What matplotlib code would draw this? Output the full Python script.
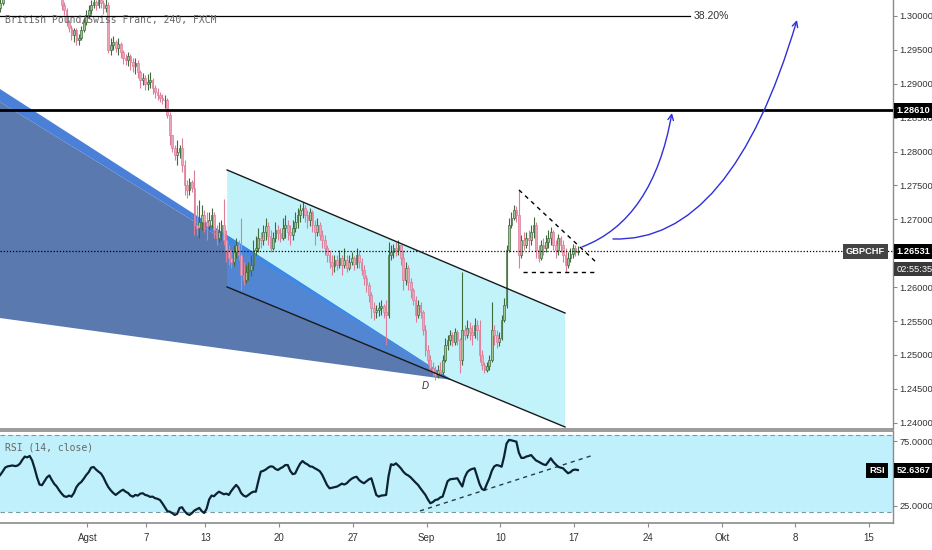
import numpy as np
import matplotlib.pyplot as plt
from matplotlib.path import Path
from matplotlib.patches import FancyArrowPatch, Polygon
from matplotlib.transforms import blended_transform_factory

plt.rcParams['font.family'] = ['Liberation Sans Narrow', 'Liberation Sans', 'DejaVu Sans']

# =========================================================
# DATA  (GBPCHF, 4h bars, index 0 = first bar of 1 Aug)
# =========================================================
first_bar = -36
first_open = 1.3012

closes = [
    1.3019, 1.3030, 1.3038, 1.3046, 1.3053, 1.3060, 1.3056, 1.3068, 1.3075, 1.3071,
    1.3080, 1.3072, 1.3065, 1.3068, 1.3059, 1.3063, 1.3053, 1.3056, 1.3050, 1.3060,
    1.3053, 1.3044, 1.3047, 1.3038, 1.3032, 1.3016, 1.3009, 1.2991, 1.2982, 1.2972,
    1.2979, 1.2965, 1.2968, 1.2979, 1.2991, 1.3001, 1.3009, 1.3016, 1.3021, 1.3016,
    1.3024, 1.3019, 1.3012, 1.3016, 1.2950, 1.2957, 1.2962, 1.2953, 1.2959, 1.2947,
    1.2938, 1.2935, 1.2941, 1.2932, 1.2926, 1.2931, 1.2917, 1.2906, 1.2909, 1.2900,
    1.2903, 1.2906, 1.2894, 1.2888, 1.2884, 1.2879, 1.2876, 1.2876, 1.2854, 1.2825,
    1.2805, 1.2795, 1.2799, 1.2805, 1.2780, 1.2751, 1.2743, 1.2755, 1.2746, 1.2692,
    1.2687, 1.2696, 1.2707, 1.2696, 1.2690, 1.2699, 1.2707, 1.2684, 1.2673, 1.2681,
    1.2692, 1.2670, 1.2655, 1.2643, 1.2637, 1.2652, 1.2662, 1.2648, 1.2618, 1.2611,
    1.2622, 1.2625, 1.2633, 1.2655, 1.2658, 1.2673, 1.2670, 1.2681, 1.2690, 1.2675,
    1.2658, 1.2673, 1.2684, 1.2680, 1.2673, 1.2687, 1.2692, 1.2681, 1.2677, 1.2687,
    1.2696, 1.2707, 1.2714, 1.2717, 1.2707, 1.2699, 1.2711, 1.2692, 1.2681, 1.2692,
    1.2677, 1.2670, 1.2658, 1.2648, 1.2637, 1.2631, 1.2640, 1.2633, 1.2643, 1.2633,
    1.2640, 1.2628, 1.2637, 1.2643, 1.2634, 1.2648, 1.2637, 1.2625, 1.2613, 1.2603,
    1.2589, 1.2569, 1.2564, 1.2566, 1.2569, 1.2572, 1.2564, 1.2559, 1.2648, 1.2652,
    1.2658, 1.2655, 1.2662, 1.2643, 1.2611, 1.2628, 1.2608, 1.2596, 1.2581, 1.2559,
    1.2574, 1.2564, 1.2537, 1.2507, 1.2493, 1.2481, 1.2475, 1.2471, 1.2478, 1.2475,
    1.2493, 1.2515, 1.2522, 1.2529, 1.2519, 1.2534, 1.2522, 1.2493, 1.2537, 1.2529,
    1.2540, 1.2534, 1.2529, 1.2544, 1.2537, 1.2500, 1.2485, 1.2478, 1.2484, 1.2493,
    1.2537, 1.2529, 1.2519, 1.2525, 1.2552, 1.2574, 1.2655, 1.2692, 1.2702, 1.2714,
    1.2707, 1.2648, 1.2670, 1.2662, 1.2673, 1.2670, 1.2681, 1.2692, 1.2655, 1.2643,
    1.2662, 1.2658, 1.2667, 1.2673, 1.2681, 1.2662, 1.2655, 1.2673, 1.2662, 1.2648,
    1.2633, 1.2643, 1.2649, 1.2658, 1.2652, 1.26531,
]
highs = [
    1.3027, 1.3035, 1.3044, 1.3053, 1.3060, 1.3068, 1.3065, 1.3074, 1.3083, 1.3080,
    1.3086, 1.3083, 1.3075, 1.3074, 1.3071, 1.3068, 1.3065, 1.3062, 1.3059, 1.3065,
    1.3063, 1.3056, 1.3053, 1.3050, 1.3041, 1.3035, 1.3021, 1.3012, 1.2994, 1.2987,
    1.2982, 1.2982, 1.2974, 1.2985, 1.2997, 1.3009, 1.3016, 1.3024, 1.3028, 1.3024,
    1.3031, 1.3030, 1.3024, 1.3027, 1.3021, 1.2968, 1.2970, 1.2965, 1.2968, 1.2962,
    1.2950, 1.2944, 1.2947, 1.2944, 1.2938, 1.2938, 1.2935, 1.2920, 1.2916, 1.2913,
    1.2915, 1.2917, 1.2909, 1.2898, 1.2894, 1.2888, 1.2885, 1.2884, 1.2879, 1.2858,
    1.2825, 1.2810, 1.2817, 1.2810, 1.2820, 1.2788, 1.2758, 1.2761, 1.2758, 1.2773,
    1.2721, 1.2729, 1.2721, 1.2714, 1.2711, 1.2711, 1.2717, 1.2711, 1.2692, 1.2696,
    1.2699, 1.2730, 1.2684, 1.2662, 1.2655, 1.2662, 1.2673, 1.2670, 1.2702, 1.2637,
    1.2633, 1.2637, 1.2648, 1.2670, 1.2675, 1.2687, 1.2681, 1.2692, 1.2702, 1.2696,
    1.2684, 1.2681, 1.2696, 1.2692, 1.2687, 1.2702, 1.2707, 1.2699, 1.2692, 1.2699,
    1.2711, 1.2717, 1.2723, 1.2726, 1.2721, 1.2714, 1.2717, 1.2714, 1.2699, 1.2702,
    1.2696, 1.2684, 1.2677, 1.2662, 1.2655, 1.2648, 1.2648, 1.2648, 1.2655, 1.2648,
    1.2658, 1.2648, 1.2648, 1.2652, 1.2646, 1.2658, 1.2655, 1.2643, 1.2633, 1.2618,
    1.2608, 1.2593, 1.2578, 1.2574, 1.2578, 1.2581, 1.2575, 1.2581, 1.2667, 1.2662,
    1.2664, 1.2667, 1.2670, 1.2662, 1.2655, 1.2637, 1.2633, 1.2613, 1.2599, 1.2587,
    1.2581, 1.2578, 1.2566, 1.2544, 1.2515, 1.2500, 1.2490, 1.2484, 1.2485, 1.2490,
    1.2500, 1.2525, 1.2529, 1.2537, 1.2534, 1.2540, 1.2537, 1.2525, 1.2622, 1.2544,
    1.2552, 1.2549, 1.2544, 1.2555, 1.2552, 1.2552, 1.2507, 1.2490, 1.2490, 1.2500,
    1.2578, 1.2544, 1.2537, 1.2534, 1.2559, 1.2584, 1.2662, 1.2702, 1.2711, 1.2721,
    1.2720, 1.2743, 1.2677, 1.2681, 1.2681, 1.2684, 1.2692, 1.2704, 1.2696, 1.2662,
    1.2670, 1.2673, 1.2677, 1.2684, 1.2689, 1.2684, 1.2670, 1.2679, 1.2675, 1.2670,
    1.2658, 1.2652, 1.2658, 1.2664, 1.2662, 1.2661,
]
lows = [
    1.3006, 1.3016, 1.3031, 1.3037, 1.3043, 1.3050, 1.3047, 1.3053, 1.3065, 1.3063,
    1.3068, 1.3065, 1.3059, 1.3056, 1.3053, 1.3053, 1.3046, 1.3044, 1.3041, 1.3046,
    1.3044, 1.3035, 1.3035, 1.3031, 1.3027, 1.3009, 1.3001, 1.2985, 1.2976, 1.2965,
    1.2962, 1.2957, 1.2957, 1.2965, 1.2976, 1.2987, 1.2997, 1.3003, 1.3012, 1.3009,
    1.3012, 1.3012, 1.3003, 1.3006, 1.2945, 1.2942, 1.2950, 1.2947, 1.2942, 1.2938,
    1.2929, 1.2928, 1.2926, 1.2920, 1.2917, 1.2915, 1.2909, 1.2894, 1.2898, 1.2891,
    1.2891, 1.2894, 1.2885, 1.2879, 1.2876, 1.2873, 1.2870, 1.2864, 1.2850, 1.2810,
    1.2799, 1.2788, 1.2780, 1.2791, 1.2770, 1.2736, 1.2731, 1.2736, 1.2740, 1.2677,
    1.2677, 1.2673, 1.2684, 1.2681, 1.2670, 1.2684, 1.2687, 1.2673, 1.2662, 1.2667,
    1.2670, 1.2662, 1.2637, 1.2633, 1.2628, 1.2631, 1.2643, 1.2640, 1.2596, 1.2603,
    1.2606, 1.2611, 1.2616, 1.2625, 1.2648, 1.2652, 1.2658, 1.2662, 1.2670, 1.2662,
    1.2652, 1.2655, 1.2667, 1.2670, 1.2667, 1.2670, 1.2673, 1.2670, 1.2662, 1.2670,
    1.2681, 1.2687, 1.2696, 1.2702, 1.2696, 1.2687, 1.2690, 1.2681, 1.2662, 1.2675,
    1.2670, 1.2658, 1.2648, 1.2637, 1.2628, 1.2618, 1.2622, 1.2625, 1.2628, 1.2618,
    1.2628, 1.2622, 1.2625, 1.2633, 1.2625, 1.2628, 1.2628, 1.2618, 1.2603, 1.2593,
    1.2578, 1.2555, 1.2552, 1.2555, 1.2558, 1.2559, 1.2555, 1.2515, 1.2555, 1.2640,
    1.2643, 1.2646, 1.2648, 1.2633, 1.2596, 1.2603, 1.2596, 1.2584, 1.2574, 1.2549,
    1.2555, 1.2555, 1.2529, 1.2499, 1.2485, 1.2475, 1.2469, 1.2463, 1.2466, 1.2471,
    1.2471, 1.2490, 1.2507, 1.2515, 1.2513, 1.2515, 1.2515, 1.2474, 1.2485, 1.2522,
    1.2525, 1.2522, 1.2515, 1.2525, 1.2522, 1.2490, 1.2478, 1.2474, 1.2475, 1.2478,
    1.2490, 1.2515, 1.2510, 1.2513, 1.2522, 1.2549, 1.2569, 1.2652, 1.2687, 1.2699,
    1.2696, 1.2628, 1.2643, 1.2655, 1.2658, 1.2655, 1.2662, 1.2673, 1.2643, 1.2637,
    1.2640, 1.2648, 1.2652, 1.2658, 1.2662, 1.2655, 1.2643, 1.2648, 1.2652, 1.2637,
    1.2622, 1.2628, 1.2637, 1.2643, 1.2646, 1.2648,
]
rsi = [
    48.8, 51.5, 54.5, 55.5, 55.8, 56.2, 55.7, 56.0, 57.5, 60.5,
    63.0, 62.4, 63.5, 60.0, 54.0, 47.0, 41.5, 41.0, 44.0, 47.0,
    48.5, 45.0, 42.0, 40.0, 37.0, 34.5, 32.5, 32.0, 33.0, 32.2,
    35.0, 39.5, 42.0, 43.5, 46.0, 48.8, 51.0, 54.5, 55.0, 53.0,
    51.4, 50.0, 47.0, 43.0, 39.5, 37.0, 35.0, 33.5, 35.0, 36.5,
    37.5, 36.0, 35.0, 33.0, 32.2, 33.5, 33.0, 34.5, 34.8, 33.5,
    33.0, 32.0, 32.2, 31.0, 30.5, 29.6, 27.0, 24.0, 21.0, 20.6,
    19.5, 18.1, 19.0, 23.5, 24.0, 21.0, 19.0, 18.1, 19.5, 21.5,
    22.5, 23.5, 21.0, 19.6, 23.0, 30.0, 33.0, 32.5, 34.5, 36.0,
    35.0, 34.0, 34.5, 33.5, 36.5, 39.0, 41.2, 39.0, 35.0, 33.0,
    32.2, 33.5, 35.0, 36.0, 36.0, 44.0, 51.4, 52.0, 53.0, 54.5,
    55.5, 55.2, 53.5, 52.7, 54.0, 55.0, 56.5, 56.5, 52.0, 49.5,
    50.0, 54.0, 57.5, 59.6, 58.0, 57.0, 55.5, 55.2, 54.0, 53.0,
    51.8, 49.0, 45.0, 41.0, 38.6, 39.0, 39.5, 39.9, 41.0, 42.2,
    41.5, 42.5, 44.5, 46.0, 47.0, 47.5, 45.0, 43.5, 42.5, 44.0,
    45.5, 46.3, 40.0, 33.5, 32.2, 33.0, 33.2, 33.5, 48.0, 57.1,
    56.5, 57.8, 56.0, 54.0, 51.4, 49.5, 48.5, 47.0, 45.0, 43.0,
    41.2, 38.5, 36.0, 33.5, 30.0, 27.1, 28.0, 29.6, 30.0, 31.5,
    32.2, 38.0, 44.0, 45.5, 45.8, 46.0, 46.3, 43.0, 40.0, 47.0,
    51.0, 52.7, 53.5, 54.0, 48.0, 42.0, 38.0, 37.3, 42.0, 46.3,
    52.0, 55.5, 56.5, 56.0, 55.2, 63.0, 73.0, 75.8, 75.5, 75.0,
    74.5, 66.0, 62.0, 62.0, 63.0, 63.5, 64.2, 62.0, 60.0, 59.1,
    58.0, 57.0, 56.5, 59.0, 61.7, 59.0, 57.0, 55.2, 54.5, 54.0,
    52.0, 50.2, 51.0, 52.7, 53.0, 52.6367,
]

# time axis in trading days (day 0 = 1 Aug), 6 bars per day
tick_days = [0, 4, 8, 13, 18, 23, 28, 33, 38, 43, 48, 53]
tick_labels = ['Agst', '7', '13', '20', '27', 'Sep', '10', '17', '24', 'Okt', '8', '15']
price_ticks = [1.24, 1.245, 1.25, 1.255, 1.26, 1.265, 1.27, 1.275, 1.28, 1.285, 1.29, 1.295, 1.30]

last_price = 1.26531
resistance = 1.28610
fib_382 = 1.29993

# drawings (anchor points: day, price)
fan_a = [(-5.93, 1.28923), (24.72, 1.24631)]
fan_b = [(-5.93, 1.28731), (24.72, 1.24631)]
fan_c = [(-5.93, 1.25545), (24.72, 1.24631)]
chan_top = [(9.47, 1.27729), (32.38, 1.25619)]
chan_bot = [(9.47, 1.26003), (32.38, 1.23938)]
tri_top = [(29.26, 1.27434), (34.55, 1.26357)]
tri_bot = [(29.53, 1.26224), (34.62, 1.26224)]
arrow1 = [(33.53, 1.26593), (38.35, 1.26991), (39.63, 1.28569)]
arrow2 = [(35.63, 1.26711), (43.63, 1.26652), (48.11, 1.29941)]
rsi_trend = [(22.55, 21.2), (34.18, 63.7)]

# =========================================================
# FIGURE
# =========================================================
fig = plt.figure(figsize=(9.32, 5.5), dpi=100)
ax = fig.add_axes([0, 121 / 550, 893 / 932, 429 / 550])
ax_r = fig.add_axes([0, 27 / 550, 893 / 932, 92 / 550], sharex=ax)

x_lo, x_hi = -5.93, 54.62
ax.set_xlim(x_lo, x_hi)
ax.set_ylim(1.23908, 1.30236)
ax_r.set_ylim(11.9, 82.7)

spine_col = '#8a8a8a'
for a in (ax, ax_r):
    a.spines['left'].set_visible(False)
    a.spines['top'].set_visible(False)
    a.spines['right'].set_color(spine_col)
    a.spines['bottom'].set_color(spine_col)
    a.spines['right'].set_linewidth(1.0)
    a.spines['bottom'].set_linewidth(1.2)
ax_r.spines['top'].set_visible(True)
ax_r.spines['top'].set_color(spine_col)
ax_r.spines['top'].set_linewidth(1.2)

# --- fan (behind everything)
fan_ab = [fan_a[0], fan_a[1], fan_b[0]]
fan_bc = [fan_b[0], fan_b[1], fan_c[0]]
ax.add_patch(Polygon(fan_ab, closed=True, fc='#4b80d8', ec='none', zorder=1))
ax.add_patch(Polygon(fan_bc, closed=True, fc='#5a79af', ec='none', zorder=1))

# --- parallel channel
chan = Polygon([chan_top[0], chan_top[1], chan_bot[1], chan_bot[0]], closed=True,
               fc='#00cdee', alpha=0.24, ec='none', zorder=2)
ax.add_patch(chan)
# fan seen through the channel fill looks brighter
for pts, col in ((fan_ab, '#3f88e8'), (fan_bc, '#5286d2')):
    p = Polygon(pts, closed=True, fc=col, ec='none', zorder=2.5)
    ax.add_patch(p)
    p.set_clip_path(chan)
for ln in (chan_top, chan_bot):
    ax.plot([ln[0][0], ln[1][0]], [ln[0][1], ln[1][1]], color='#1a1a1a', lw=1.0, zorder=5)

# --- candles
c = np.array(closes)
h = np.array(highs)
l = np.array(lows)
o = np.array([first_open] + closes[:-1])
xb = (np.arange(len(c)) + first_bar + 0.5) / 6
up = c >= o
dn = ~up
w = 0.7 / 6
up_edge, up_face = '#3f6b3c', '#a3c493'
dn_edge, dn_face = '#dc7d99', '#eea5ba'
ax.vlines(xb[up], l[up], h[up], color=up_edge, lw=0.8, zorder=3)
ax.vlines(xb[dn], l[dn], h[dn], color=dn_edge, lw=0.8, zorder=3)
ax.bar(xb[up], np.maximum(c[up] - o[up], 0.00003), bottom=o[up], width=w,
       color=up_face, edgecolor=up_edge, lw=0.5, zorder=4)
ax.bar(xb[dn], np.minimum(c[dn] - o[dn], -0.00003), bottom=o[dn], width=w,
       color=dn_face, edgecolor=dn_edge, lw=0.5, zorder=4)

# --- horizontal levels
ax.axhline(resistance, color='black', lw=2.0, zorder=6)
ax.plot([x_lo, 40.85], [fib_382, fib_382], color='black', lw=0.9, zorder=6)
ax.text(41.1, fib_382, '38.20%', fontsize=7.5, color='#333333', va='center', ha='left',
        family=['Liberation Sans', 'DejaVu Sans'], zorder=7)
ax.axhline(last_price, color='black', lw=0.9, ls=(0, (1, 1.5)), zorder=6)

# --- triangle
for ln in (tri_top, tri_bot):
    ax.plot([ln[0][0], ln[1][0]], [ln[0][1], ln[1][1]], color='black', lw=1.0,
            ls=(0, (3, 3)), zorder=6)

# --- projection arrows
for pts in (arrow1, arrow2):
    pth = Path(pts, [Path.MOVETO, Path.CURVE3, Path.CURVE3])
    ax.add_patch(FancyArrowPatch(path=pth, arrowstyle='->,head_length=4,head_width=2',
                                 color='#2f2fd8', lw=1.0, zorder=7))

ax.text(22.9, 1.2454, 'D', fontsize=7, style='italic', color='#333333', ha='center', va='center',
        family=['Liberation Sans', 'DejaVu Sans'], zorder=7)

ax.text(0.006, 0.953, 'British Pound/Swiss Franc, 240, FXCM', transform=ax.transAxes,
        family='DejaVu Sans Mono', fontsize=7, color='#666666', va='center', zorder=8)

# --- price axis (the 1.26500 label sits hidden under the last-price box)
ax.yaxis.tick_right()
ax.set_yticks(price_ticks)
ax.set_yticklabels(['' if abs(p - 1.265) < 1e-9 else '%.5f' % p for p in price_ticks])
ax.tick_params(axis='y', length=3, width=0.8, color=spine_col, labelsize=6.7,
               labelcolor='#333333', pad=1.5)
ax.tick_params(axis='x', bottom=False, labelbottom=False)

tr = blended_transform_factory(ax.transAxes, ax.transData)
box_kw = dict(fontsize=6.7, color='white', va='center', clip_on=False, zorder=10)
ax.text(1.004, resistance, '1.28610', transform=tr, ha='left', weight='bold',
        bbox=dict(boxstyle='square,pad=0.32', fc='black', ec='none'), **box_kw)
ax.text(1.004, last_price, '1.26531', transform=tr, ha='left', weight='bold',
        bbox=dict(boxstyle='square,pad=0.32', fc='black', ec='none'), **box_kw)
ax.text(1.004, 1.26268, '02:55:35', transform=tr, ha='left',
        bbox=dict(boxstyle='square,pad=0.32', fc='#3a3a3a', ec='none'), **box_kw)
ax.text(0.991, last_price, 'GBPCHF', transform=tr, ha='right', weight='bold',
        bbox=dict(boxstyle='square,pad=0.32', fc='#444444', ec='none'), **box_kw)

# =========================================================
# RSI PANE
# =========================================================
ax_r.axhspan(20, 80, color='#c0f0fb', lw=0, zorder=0)
for lvl in (20, 80):
    ax_r.axhline(lvl, color='#6f9ca6', lw=0.8, ls=(0, (4, 3)), zorder=1)
xr = (np.arange(len(rsi)) + first_bar + 0.5) / 6
ax_r.plot(xr, rsi, color='#0d2230', lw=1.6, zorder=3)
ax_r.plot([rsi_trend[0][0], rsi_trend[1][0]], [rsi_trend[0][1], rsi_trend[1][1]],
          color='#2a3a44', lw=1.0, ls=(0, (3, 3)), zorder=2)

ax_r.text(0.006, 0.82, 'RSI (14, close)', transform=ax_r.transAxes, family='DejaVu Sans Mono',
          fontsize=7, color='#666666', va='center')

ax_r.yaxis.tick_right()
ax_r.set_yticks([25, 75])
ax_r.set_yticklabels(['25.0000', '75.0000'])
ax_r.tick_params(axis='y', length=3, width=0.8, color=spine_col, labelsize=6.7,
                 labelcolor='#333333', pad=1.5)
ax_r.set_xticks(tick_days)
ax_r.set_xticklabels(tick_labels)
ax_r.tick_params(axis='x', length=3, width=0.8, color=spine_col, labelsize=7,
                 labelcolor='#333333', pad=4)

tr_r = blended_transform_factory(ax_r.transAxes, ax_r.transData)
ax_r.text(1.004, rsi[-1], '%.4f' % rsi[-1], transform=tr_r, ha='left', weight='bold',
          bbox=dict(boxstyle='square,pad=0.32', fc='black', ec='none'), **box_kw)
ax_r.text(0.991, rsi[-1], 'RSI', transform=tr_r, ha='right', weight='bold',
          bbox=dict(boxstyle='square,pad=0.32', fc='black', ec='none'), **box_kw)

fig.savefig('out.png', dpi=100)
plt.close(fig)
